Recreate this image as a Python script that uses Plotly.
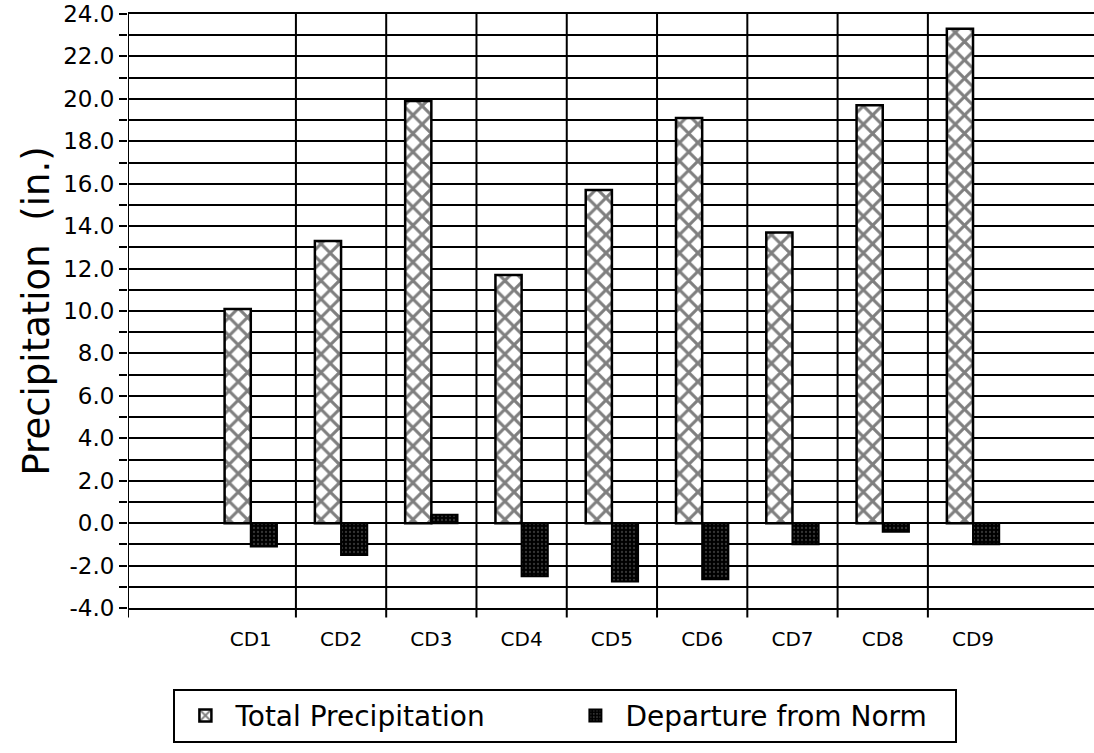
import plotly.graph_objects as go

categories = ["CD1", "CD2", "CD3", "CD4", "CD5", "CD6", "CD7", "CD8", "CD9"]
total_precip = [10.1, 13.3, 19.9, 11.7, 15.7, 19.1, 13.7, 19.7, 23.3]
departure = [-1.1, -1.5, 0.4, -2.5, -2.75, -2.65, -1.0, -0.4, -1.0]
y_tick_vals = [-4, -2, 0, 2, 4, 6, 8, 10, 12, 14, 16, 18, 20, 22, 24]
y_tick_text = ["%.1f" % v for v in y_tick_vals]

FONT = "DejaVu Sans"
X_RANGE = [-1.36, 9.34]

fig = go.Figure()
fig.add_trace(go.Bar(
    x=categories, y=total_precip, name="Total Precipitation",
    marker=dict(color="white", line=dict(color="black", width=2.5),
                pattern=dict(shape="x", fgcolor="black", bgcolor="white",
                             size=13, solidity=0.42)),
))
fig.add_trace(go.Bar(
    x=categories, y=departure, name="Departure from Norm",
    marker=dict(color="black", line=dict(color="black", width=2),
                pattern=dict(shape=".", fgcolor="#6a6a6a", bgcolor="black",
                             size=4, solidity=0.25)),
))

shapes = []
xs = [X_RANGE[0]] + [i + 0.5 for i in range(len(categories) - 1)]
for xv in xs:
    shapes.append(dict(type="line", xref="x", yref="paper", x0=xv, x1=xv,
                       y0=-0.016, y1=1, line=dict(color="black", width=2),
                       layer="below"))

fig.update_layout(
    width=1094, height=753,
    margin=dict(l=128, r=0, t=14, b=145, autoexpand=False),
    paper_bgcolor="white", plot_bgcolor="white",
    barmode="group", bargap=0.42, bargroupgap=0,
    font=dict(family=FONT, color="black", size=20),
    shapes=shapes,
    showlegend=True,
    legend=dict(orientation="h", x=0.047, xanchor="left", y=-0.136, yanchor="top",
                bordercolor="black", borderwidth=2, bgcolor="white",
                font=dict(size=28, family=FONT), entrywidth=325,
                entrywidthmode="pixels", itemwidth=50, tracegroupgap=0),
)
fig.update_xaxes(
    range=X_RANGE, showgrid=False, zeroline=False,
    showline=True, mirror=True, linecolor="black", linewidth=2,
    ticks="", tickfont=dict(size=20, family=FONT), automargin=False,
    ticklabelstandoff=12,
)
fig.update_yaxes(
    range=[-4, 24], tickvals=y_tick_vals, ticktext=y_tick_text,
    showgrid=True, gridcolor="black", gridwidth=2,
    zeroline=True, zerolinecolor="black", zerolinewidth=2,
    showline=False, automargin=False,
    ticks="outside", ticklen=8, tickwidth=2, tickcolor="black",
    minor=dict(dtick=1, tick0=0, showgrid=True, gridcolor="black", gridwidth=2,
               ticks="outside", ticklen=8, tickwidth=2, tickcolor="black"),
    tickfont=dict(size=23, family=FONT),
    title=dict(text="Precipitation  (in.)", font=dict(size=37, family=FONT), standoff=2),
)

fig.write_html("out.html", config={"displayModeBar": False},
               post_script="document.body.style.margin='0';")
